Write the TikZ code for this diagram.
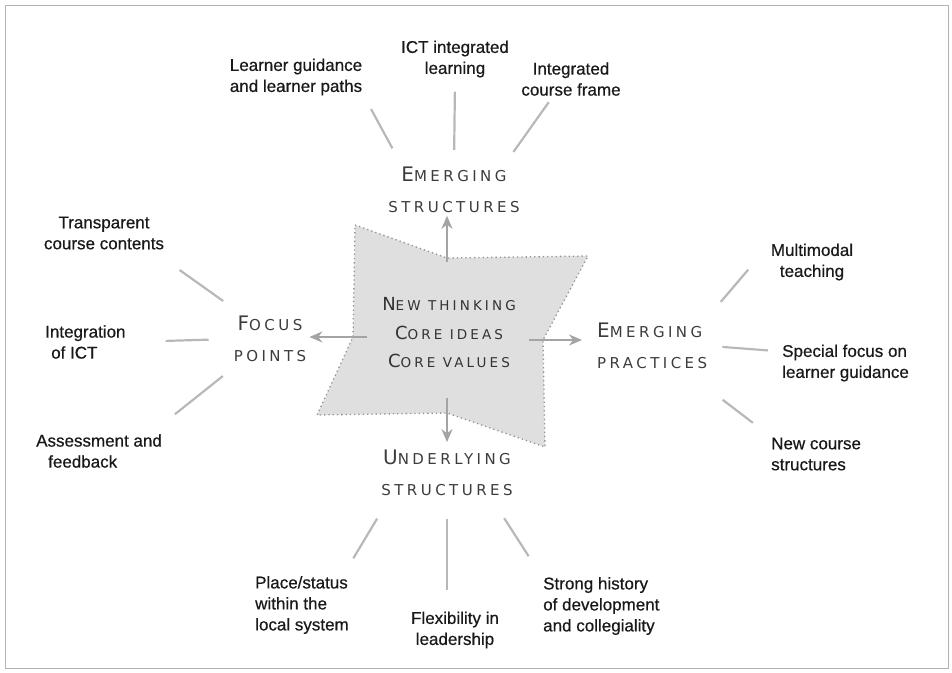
\documentclass[tikz,border=0pt]{standalone}
\usepackage{fontspec}
\setmainfont{Liberation Sans}
\newfontfamily\leaffont[FakeBold=0.6]{Liberation Sans}
\newfontfamily\capsfont[LetterSpace=23]{DejaVu Sans}
\usepackage{tikz}
\usetikzlibrary{arrows.meta}
\definecolor{spokegray}{HTML}{B8B8B8}
\definecolor{arrowgray}{HTML}{A4A4A4}
\definecolor{coregray}{HTML}{DFDFDF}
\definecolor{headgray}{HTML}{3C3C3C}
\newcommand\initcap[2][20]{{\fontsize{#1}{#1}\selectfont #2}}

\begin{document}
\begin{tikzpicture}[x=1pt,y=-1pt,
  leaf/.style={font=\leaffont\fontsize{17}{21}\selectfont, text=black!90, align=center, inner sep=3pt},
  topic/.style={font=\capsfont\fontsize{15}{30.5}\selectfont, text=headgray, align=center, inner sep=3pt},
  spoke/.style={draw=spokegray, line width=2.2pt},
  flow/.style={draw=arrowgray, line width=2.6pt, -{Stealth[length=13pt,width=11pt]}, shorten <=-14pt}]
  \useasboundingbox (0,0) rectangle (952,672);
  \draw[gray!60, line width=1pt] (5,5) rectangle (948,668);

  \coordinate (p1) at (355,225);
  \coordinate (p2) at (447,258);
  \coordinate (p3) at (588,256);
  \coordinate (p4) at (543,340);
  \coordinate (p5) at (545,447);
  \coordinate (p6) at (447,413);
  \coordinate (p7) at (317,415);
  \coordinate (p8) at (353,337);
  \path[fill=coregray, draw=gray!85, line width=1.3pt, dash pattern=on 1.3pt off 3pt]
    (p1) -- (p2) -- (p3) -- (p4) -- (p5) -- (p6) -- (p7) -- (p8) -- cycle;

  \node[topic, font=\capsfont\fontsize{13.5}{28.5}\selectfont, text=black!80] (core) at (449,333)
    {\initcap[18]{N}EW THINKING\\\initcap[18]{C}ORE IDEAS\\\initcap[18]{C}ORE VALUES};
  \node[topic] (emstruct) at (454,190) {\initcap{E}MERGING\\STRUCTURES};
  \node[topic] (focus) at (270,339) {\initcap{F}OCUS\\POINTS};
  \node[topic, anchor=west, align=left] (emprac) at (594,346) {\initcap{E}MERGING\\PRACTICES};
  \node[topic] (undstruct) at (447,473) {\initcap{U}NDERLYING\\STRUCTURES};

  \node[leaf] (lgl) at (296,77) {Learner guidance\\and learner paths};
  \node[leaf] (ictl) at (455,59) {ICT integrated\\learning};
  \node[leaf] (icf) at (571,79) {Integrated\\course frame};
  \node[leaf] (tcc) at (104,233) {Transparent\\course contents};
  \node[leaf, anchor=west, align=left] (ioi) at (42,342) {Integration\\\hspace*{6pt}of ICT};
  \node[leaf, anchor=west, align=left] (aaf) at (33,451) {Assessment and\\\hspace*{12pt}feedback};
  \node[leaf] (mmt) at (812,262) {Multimodal\\teaching};
  \node[leaf, anchor=west, align=left] (sfl) at (779,363) {Special focus on\\learner guidance};
  \node[leaf, anchor=west, align=left] (ncs) at (768,454) {New course\\structures};
  \node[leaf, anchor=west, align=left] (pls) at (252,605) {Place/status\\within the\\local system};
  \node[leaf] (flx) at (455,630) {Flexibility in\\leadership};
  \node[leaf, anchor=west, align=left] (shi) at (540,606) {Strong history\\of development\\and collegiality};

  \draw[spoke, shorten <=12pt, shorten >=18pt] (lgl.south east) -- (emstruct.154);
  \draw[spoke, shorten <=11pt, shorten >=14pt] (ictl.south) -- (emstruct.north);
  \draw[spoke, shorten <=4pt, shorten >=15pt] (icf.-135) -- (emstruct.27);
  \draw[spoke, shorten <=30pt, shorten >=21pt] (tcc.-21) -- (focus.139);
  \draw[spoke, shorten <=37pt, shorten >=22pt] (ioi.east) -- (focus.west);
  \draw[spoke, shorten <=27pt, shorten >=18pt] (aaf.20) -- (focus.-142);
  \draw[spoke, shorten <=30pt, shorten >=24pt] (mmt.161) -- (emprac.26);
  \draw[spoke, shorten <=11pt, shorten >=12pt] (sfl.170) -- (emprac.east);
  \draw[spoke, shorten <=19pt, shorten >=46pt] (ncs.north west) -- (emprac);
  \draw[spoke, shorten <=17pt, shorten >=23pt] (pls.37) -- (undstruct.-156);
  \draw[spoke, shorten <=18pt, shorten >=20pt] (undstruct.south |- flx.north) -- (undstruct.south);
  \draw[spoke, shorten <=21pt, shorten >=23pt] (shi.north west) -- (undstruct.-30);

  \draw[flow, shorten <=-4pt] (p2) -- (p2 |- emstruct.south);
  \draw[flow] (p8) -- (p8 -| focus.east);
  \draw[flow, shorten >=12pt] (p4) -- (p4 -| emprac.west);
  \draw[flow, shorten <=-15pt, shorten >=5pt] (p6) -- (p6 |- undstruct.north);
\end{tikzpicture}
\end{document}
